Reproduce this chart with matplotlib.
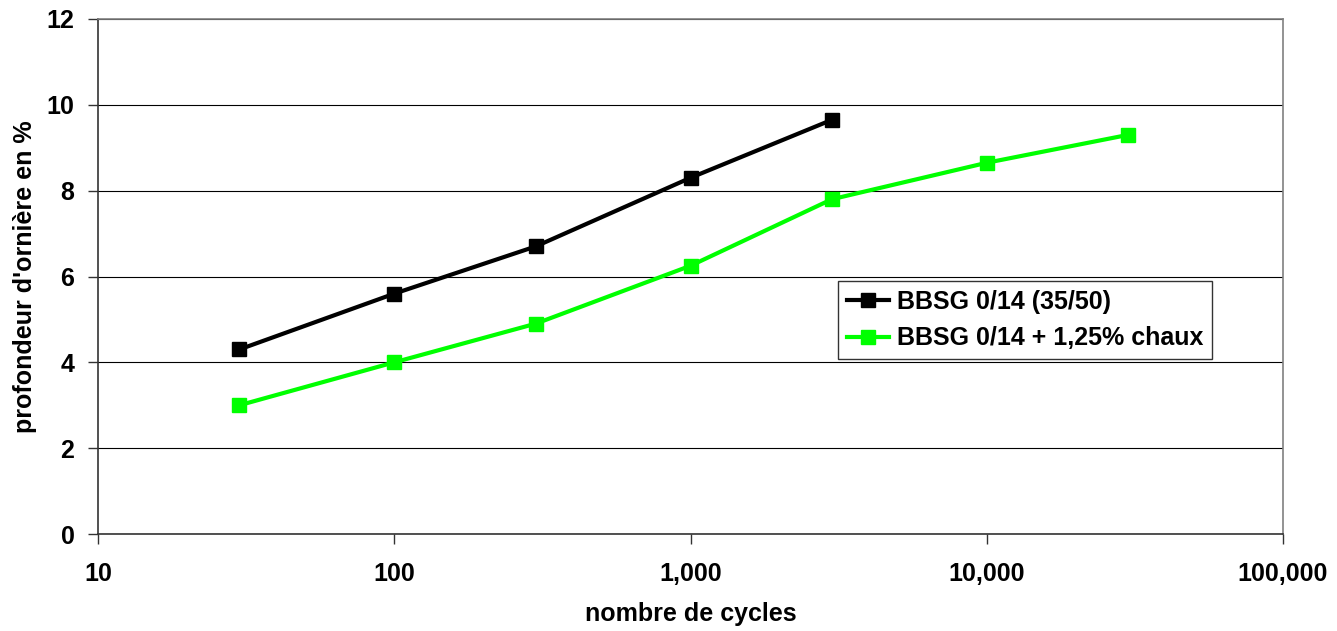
import matplotlib
matplotlib.use("Agg")
import matplotlib.pyplot as plt
from matplotlib.ticker import FuncFormatter, FixedLocator, NullLocator

plt.rcParams['font.family'] = ['Liberation Sans', 'DejaVu Sans']
plt.rcParams['font.weight'] = 'bold'

cycles_a = [30, 100, 300, 1000, 3000]
rut_a = [4.3, 5.6, 6.7, 8.3, 9.65]
cycles_b = [30, 100, 300, 1000, 3000, 10000, 30000]
rut_b = [3.0, 4.0, 4.9, 6.25, 7.8, 8.65, 9.3]
label_a = "BBSG 0/14 (35/50)"
label_b = "BBSG 0/14 + 1,25% chaux"

fs = 18

fig = plt.figure(figsize=(13.37, 6.31), dpi=100)
ax = fig.add_axes([98 / 1337, 97 / 631, 1185 / 1337, 515 / 631])

ax.plot(cycles_a, rut_a, color='black', lw=3, marker='s', ms=10.5, label=label_a)
ax.plot(cycles_b, rut_b, color='#00ff00', lw=3, marker='s', ms=10.5, label=label_b)

ax.set_xscale('log')
ax.set_xlim(10, 100000)
ax.set_ylim(0, 12)
ax.xaxis.set_major_locator(FixedLocator([10, 100, 1000, 10000, 100000]))
ax.xaxis.set_minor_locator(NullLocator())
ax.xaxis.set_major_formatter(FuncFormatter(lambda v, p: f"{int(round(v)):,}"))
ax.set_yticks(range(0, 13, 2))

ax.yaxis.grid(True, color='black', lw=0.8)
ax.set_axisbelow(True)
for s in ['top', 'right']:
    ax.spines[s].set_color('#808080')
    ax.spines[s].set_linewidth(1.2)
for s in ['left', 'bottom']:
    ax.spines[s].set_color('#333333')
    ax.spines[s].set_linewidth(1.2)

ax.tick_params(axis='both', direction='out', length=7, width=1, labelsize=fs, color='#333333')
ax.tick_params(axis='x', pad=13)
ax.tick_params(axis='y', pad=10)

ax.set_xlabel("nombre de cycles", fontsize=fs, fontweight='bold', labelpad=12)
ax.set_ylabel("profondeur d'ornière en %", fontsize=fs, fontweight='bold', labelpad=7)

leg = ax.legend(loc='upper left', bbox_to_anchor=(0.6245, 0.491), fontsize=fs,
                frameon=True, fancybox=False, edgecolor='black', handlelength=1.7,
                handletextpad=0.3, borderpad=0.35, labelspacing=0.5, borderaxespad=0)
leg.get_frame().set_linewidth(1)

fig.savefig("out.png", dpi=100)
